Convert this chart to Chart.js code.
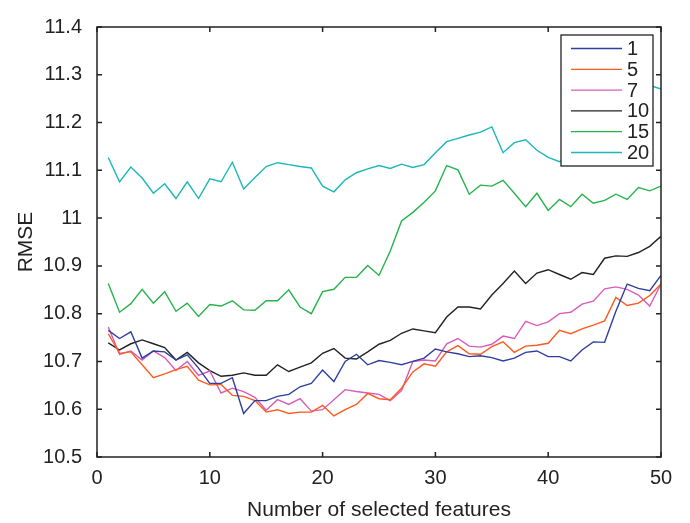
<!DOCTYPE html>
<html lang="en">
<head>
  <meta charset="UTF-8">
  <title>RMSE vs number of selected features</title>
  <script src="https://cdn.jsdelivr.net/npm/chart.js"></script>
  <style>
    body { margin: 0; background: #fff; }
    .chart-container { width: 690px; height: 523px; }
  </style>
</head>
<body>

<div class="chart-container">
  <canvas id="rmseChart"></canvas>
</div>

<script>
  // number of selected features (x)
  const features = [1, 2, 3, 4, 5, 6, 7, 8, 9, 10, 11, 12, 13, 14, 15, 16, 17, 18, 19, 20,
    21, 22, 23, 24, 25, 26, 27, 28, 29, 30, 31, 32, 33, 34, 35, 36, 37, 38, 39, 40,
    41, 42, 43, 44, 45, 46, 47, 48, 49, 50];

  const seriesNames = ['1', '5', '7', '10', '15', '20'];
  const seriesColors = ['#2f3f9e', '#ff5a1e', '#d85cbc', '#222222', '#25b34a', '#1bb7b9'];

  const rmse1 = [10.765, 10.748, 10.762, 10.707, 10.722, 10.720, 10.703, 10.714, 10.686, 10.654,
    10.654, 10.666, 10.591, 10.618, 10.618, 10.627, 10.631, 10.647, 10.654, 10.682,
    10.658, 10.700, 10.715, 10.693, 10.702, 10.698, 10.693, 10.700, 10.707, 10.726,
    10.720, 10.716, 10.710, 10.712, 10.708, 10.701, 10.707, 10.719, 10.722, 10.710,
    10.710, 10.701, 10.724, 10.741, 10.740, 10.805, 10.862, 10.853, 10.848, 10.880];
  const rmse5 = [10.758, 10.717, 10.720, 10.693, 10.666, 10.674, 10.683, 10.690, 10.661, 10.651,
    10.652, 10.629, 10.627, 10.618, 10.594, 10.599, 10.591, 10.594, 10.594, 10.608,
    10.586, 10.599, 10.610, 10.633, 10.622, 10.620, 10.644, 10.678, 10.695, 10.690,
    10.720, 10.733, 10.716, 10.715, 10.731, 10.741, 10.719, 10.732, 10.734, 10.738,
    10.765, 10.758, 10.768, 10.776, 10.785, 10.834, 10.817, 10.822, 10.838, 10.862];
  const rmse7 = [10.772, 10.715, 10.722, 10.703, 10.722, 10.708, 10.681, 10.700, 10.671, 10.680,
    10.634, 10.644, 10.637, 10.625, 10.598, 10.620, 10.610, 10.622, 10.596, 10.599,
    10.620, 10.641, 10.637, 10.634, 10.631, 10.618, 10.639, 10.700, 10.703, 10.701,
    10.737, 10.748, 10.732, 10.730, 10.736, 10.753, 10.748, 10.784, 10.775, 10.783,
    10.800, 10.803, 10.820, 10.826, 10.852, 10.856, 10.851, 10.839, 10.816, 10.862];
  const rmse10 = [10.739, 10.724, 10.737, 10.745, 10.737, 10.729, 10.703, 10.719, 10.697, 10.681,
    10.669, 10.671, 10.676, 10.671, 10.671, 10.693, 10.679, 10.688, 10.697, 10.717,
    10.727, 10.707, 10.705, 10.720, 10.736, 10.744, 10.759, 10.768, 10.764, 10.760,
    10.793, 10.814, 10.814, 10.810, 10.839, 10.863, 10.889, 10.863, 10.885, 10.892,
    10.882, 10.872, 10.886, 10.882, 10.916, 10.921, 10.920, 10.928, 10.941, 10.962];
  const rmse15 = [10.863, 10.803, 10.821, 10.851, 10.822, 10.846, 10.805, 10.822, 10.794, 10.819,
    10.816, 10.827, 10.808, 10.807, 10.827, 10.827, 10.850, 10.814, 10.800, 10.846,
    10.851, 10.876, 10.876, 10.901, 10.880, 10.931, 10.994, 11.012, 11.033, 11.057,
    11.110, 11.101, 11.050, 11.069, 11.067, 11.079, 11.052, 11.024, 11.052, 11.016,
    11.039, 11.024, 11.050, 11.031, 11.037, 11.050, 11.039, 11.064, 11.057, 11.067];
  const rmse20 = [11.127, 11.076, 11.107, 11.084, 11.052, 11.072, 11.041, 11.076, 11.041, 11.082,
    11.076, 11.117, 11.061, 11.085, 11.108, 11.116, 11.112, 11.108, 11.105, 11.067,
    11.055, 11.080, 11.095, 11.103, 11.110, 11.104, 11.113, 11.106, 11.112, 11.137,
    11.160, 11.167, 11.174, 11.180, 11.191, 11.137, 11.158, 11.164, 11.142, 11.127,
    11.118, 11.130, 11.150, 11.170, 11.190, 11.220, 11.240, 11.260, 11.278, 11.270];

  const allSeries = [rmse1, rmse5, rmse7, rmse10, rmse15, rmse20];

  const FAMILY = '"Liberation Sans", Arial, Helvetica, sans-serif';
  const FONT = { family: FAMILY, size: 20 };
  const TITLE_FONT = { family: FAMILY, size: 21 };
  const INK = '#222';

  // legend box inside the plot, drawn over the lines (like the original)
  const boxLegend = {
    id: 'boxLegend',
    afterDatasetsDraw(chart) {
      const { ctx, chartArea: a } = chart;
      const x0 = a.right - 100, y0 = a.top + 8, w = 92, h = 131;
      ctx.save();
      ctx.fillStyle = '#fff';
      ctx.fillRect(x0, y0, w, h);
      ctx.strokeStyle = INK;
      ctx.lineWidth = 1.3;
      ctx.strokeRect(x0, y0, w, h);
      ctx.font = FONT.size + 'px ' + FONT.family;
      ctx.textBaseline = 'middle';
      chart.data.datasets.forEach((ds, i) => {
        const y = y0 + 13.5 + i * 20.8;
        ctx.strokeStyle = ds.borderColor;
        ctx.lineWidth = 1.3;
        ctx.beginPath();
        ctx.moveTo(x0 + 10, y);
        ctx.lineTo(x0 + 61, y);
        ctx.stroke();
        ctx.fillStyle = INK;
        ctx.fillText(ds.label, x0 + 66, y + 1);
      });
      ctx.restore();
    }
  };

  // box frame with inward tick marks on all four sides
  const frame = {
    id: 'frame',
    afterDraw(chart) {
      const { ctx, chartArea: a, scales } = chart;
      const len = 5;
      ctx.save();
      ctx.strokeStyle = INK;
      ctx.lineWidth = 1.5;
      ctx.strokeRect(a.left, a.top, a.right - a.left, a.bottom - a.top);
      ctx.beginPath();
      scales.x.ticks.forEach(t => {
        const px = scales.x.getPixelForValue(t.value);
        ctx.moveTo(px, a.bottom); ctx.lineTo(px, a.bottom - len);
        ctx.moveTo(px, a.top); ctx.lineTo(px, a.top + len);
      });
      scales.y.ticks.forEach(t => {
        const py = scales.y.getPixelForValue(t.value);
        ctx.moveTo(a.left, py); ctx.lineTo(a.left + len, py);
        ctx.moveTo(a.right, py); ctx.lineTo(a.right - len, py);
      });
      ctx.stroke();
      ctx.restore();
    }
  };

  const ctx = document.getElementById('rmseChart').getContext('2d');
  new Chart(ctx, {
    type: 'line',
    data: {
      datasets: allSeries.map((vals, i) => ({
        label: seriesNames[i],
        data: features.map((f, j) => ({ x: f, y: vals[j] })),
        borderColor: seriesColors[i],
        backgroundColor: seriesColors[i],
        borderWidth: 1.4,
        pointRadius: 0,
        tension: 0,
        fill: false
      }))
    },
    options: {
      responsive: true,
      maintainAspectRatio: false,
      animation: false,
      layout: { padding: { top: 17, right: 29, left: 0, bottom: 0 } },
      plugins: {
        legend: { display: false },
        tooltip: { enabled: false }
      },
      scales: {
        x: {
          type: 'linear',
          min: 0,
          max: 50,
          afterFit: s => { s.height = 66; },
          grid: { display: false, drawTicks: false },
          border: { display: false },
          ticks: { stepSize: 10, color: INK, font: FONT, padding: 9, maxRotation: 0 },
          title: { display: true, text: 'Number of selected features', color: INK, font: TITLE_FONT,
                   padding: { top: 0, bottom: 0 } }
        },
        y: {
          min: 10.5,
          max: 11.4,
          afterFit: s => { s.width = 97; },
          grid: { display: false, drawTicks: false },
          border: { display: false },
          ticks: {
            stepSize: 0.1, color: INK, font: FONT, padding: 15,
            callback: v => String(+v.toFixed(1))
          },
          title: { display: true, text: 'RMSE', color: INK, font: TITLE_FONT,
                   padding: { top: 14, bottom: 0 } }
        }
      }
    },
    plugins: [boxLegend, frame]
  });
</script>

</body>
</html>
